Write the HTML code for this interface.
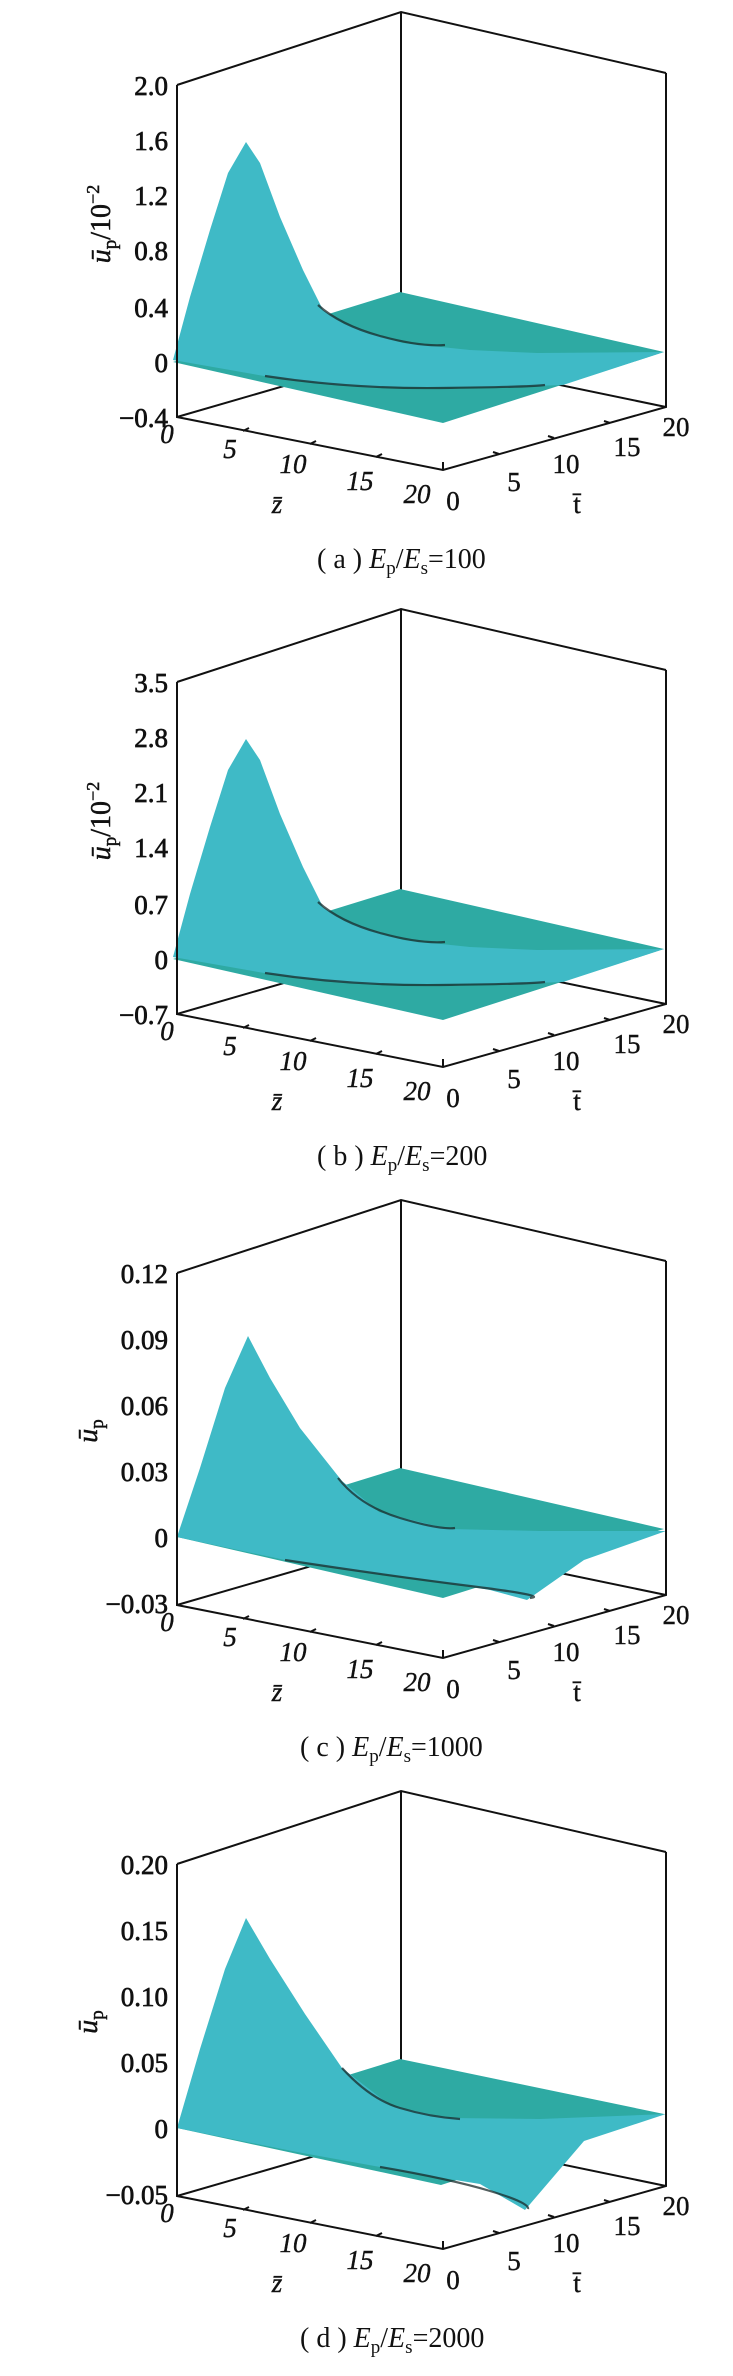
<!DOCTYPE html>
<html><head><meta charset="utf-8"><style>
html,body{margin:0;padding:0;background:#fff}
svg{display:block}
text{font-family:"Liberation Serif",serif;fill:#111}
.yt{font-size:27px;text-anchor:end;stroke:#111;stroke-width:0.7}
.ax{font-size:27px;text-anchor:middle;font-style:italic;stroke:#111;stroke-width:0.4}
.tx{font-size:27px;text-anchor:middle;stroke:#111;stroke-width:0.4}
.cap{font-size:28px}
.ln{stroke:#111;stroke-width:2;fill:none}
.pl{fill:#2eaaa3}
.hm{fill:#3fbac6}
.cr{stroke:#1a2a2a;stroke-width:2.2;fill:none;opacity:.75}
</style></head><body>
<svg width="733" height="2376" viewBox="0 0 733 2376" xmlns="http://www.w3.org/2000/svg">
<defs>
<g id="back">
  <polyline class="ln" points="177,85 401,12 666,73"/>
  <line class="ln" x1="401" y1="12" x2="401" y2="300"/>
  <line class="ln" x1="177" y1="417" x2="401" y2="352"/>
  <line class="ln" x1="666" y1="407" x2="401" y2="352"/>
</g>
<g id="front">
  <polyline class="ln" points="177,85 177,417 443,470 666,407 666,73"/>
  <path class="ln" d="M243,431 l6,-3 M310,444 l6,-3 M376,457 l6,-3 M443,470 l0,-8"/>
  <path class="ln" d="M499,454 l-6,-2 M554,438 l-6,-2 M610,423 l-6,-2"/>
  <g class="ax">
    <text x="167" y="443">0</text><text x="230" y="458">5</text><text x="293" y="473">10</text>
    <text x="360" y="490">15</text><text x="417" y="503">20</text>
    <text x="277" y="513">z̄</text>
  </g>
  <g class="tx">
    <text x="453" y="510">0</text><text x="514" y="491">5</text><text x="566" y="473">10</text>
    <text x="627" y="456">15</text><text x="676" y="436">20</text>
    <text x="577" y="513">t̄</text>
  </g>
</g>
<g id="surfAB">
  <polygon class="pl" points="173,362 443,423 664,352 400,292"/>
  <polygon class="hm" points="173,360 190,297 210,230 228,173 246,142 260,163 280,217 303,270 323,310 343,323 370,333 403,343 470,350 537,353 664,352 563,385 503,387 437,387 370,387 337,385 270,377"/>
  <path class="cr" d="M318,305 Q340,325 380,336 T445,345"/>
  <path class="cr" d="M265,376 Q350,389 440,388 T545,385"/>
</g>
<g id="surfC">
  <polygon class="pl" points="177,349 443,410 664,341 400,280"/>
  <polygon class="hm" points="177,349 200,280 225,200 248,148 270,190 300,240 342,293 379,324 449,341 540,343 666,343 584,372 527,412 490,402 430,392 350,382 285,372"/>
  <path class="cr" d="M338,290 Q360,318 400,330 T455,340"/>
  <path class="cr" d="M285,372 Q390,388 470,398 T530,410"/>
</g>
<g id="surfD">
  <polygon class="pl" points="177,349 441,406 664,335 400,280"/>
  <polygon class="hm" points="177,349 200,270 225,190 246,139 270,180 305,235 342,289 391,327 449,339 540,340 666,335 584,362 525,431 480,405 449,400 380,388 297,373"/>
  <path class="cr" d="M342,289 Q370,320 400,329 T460,340"/>
  <path class="cr" d="M380,388 Q450,400 490,412 T528,430"/>
</g>
</defs>

<g>
  <use href="#back"/><use href="#surfAB"/><use href="#front"/>
  <g class="yt">
    <text x="168" y="95">2.0</text><text x="168" y="150">1.6</text><text x="168" y="205">1.2</text>
    <text x="168" y="260">0.8</text><text x="168" y="317">0.4</text><text x="168" y="372">0</text><text x="168" y="427">−0.4</text>
  </g>
  <g transform="translate(101,224) rotate(-90)"><text x="0" y="9" style="font-size:28px;text-anchor:middle;stroke:#111;stroke-width:0.5"><tspan font-style="italic">ū</tspan><tspan font-size="19" dy="6">p</tspan><tspan dy="-6">/10</tspan><tspan font-size="18" dy="-11">−2</tspan></text></g>
  <text class="cap" x="317" y="568">( a ) <tspan font-style="italic">E</tspan><tspan font-size="19" dy="6">p</tspan><tspan dy="-6">/</tspan><tspan font-style="italic">E</tspan><tspan font-size="19" dy="6">s</tspan><tspan dy="-6">=100</tspan></text>
</g>

<g transform="translate(0,597)">
  <use href="#back"/><use href="#surfAB"/><use href="#front"/>
  <g class="yt">
    <text x="168" y="95">3.5</text><text x="168" y="150">2.8</text><text x="168" y="205">2.1</text>
    <text x="168" y="260">1.4</text><text x="168" y="317">0.7</text><text x="168" y="372">0</text><text x="168" y="427">−0.7</text>
  </g>
  <g transform="translate(101,224) rotate(-90)"><text x="0" y="9" style="font-size:28px;text-anchor:middle;stroke:#111;stroke-width:0.5"><tspan font-style="italic">ū</tspan><tspan font-size="19" dy="6">p</tspan><tspan dy="-6">/10</tspan><tspan font-size="18" dy="-11">−2</tspan></text></g>
  <text class="cap" x="317" y="568">( b ) <tspan font-style="italic">E</tspan><tspan font-size="19" dy="6">p</tspan><tspan dy="-6">/</tspan><tspan font-style="italic">E</tspan><tspan font-size="19" dy="6">s</tspan><tspan dy="-6">=200</tspan></text>
</g>

<g transform="translate(0,1188)">
  <use href="#back"/><use href="#surfC"/><use href="#front"/>
  <g class="yt">
    <text x="168" y="95">0.12</text><text x="168" y="161">0.09</text><text x="168" y="227">0.06</text>
    <text x="168" y="293">0.03</text><text x="168" y="359">0</text><text x="168" y="425">−0.03</text>
  </g>
  <g transform="translate(88,243) rotate(-90)"><text x="0" y="9" style="font-size:28px;text-anchor:middle;stroke:#111;stroke-width:0.5"><tspan font-style="italic">ū</tspan><tspan font-size="19" dy="6">p</tspan></text></g>
  <text class="cap" x="300" y="568">( c ) <tspan font-style="italic">E</tspan><tspan font-size="19" dy="6">p</tspan><tspan dy="-6">/</tspan><tspan font-style="italic">E</tspan><tspan font-size="19" dy="6">s</tspan><tspan dy="-6">=1000</tspan></text>
</g>

<g transform="translate(0,1779)">
  <use href="#back"/><use href="#surfD"/><use href="#front"/>
  <g class="yt">
    <text x="168" y="95">0.20</text><text x="168" y="161">0.15</text><text x="168" y="227">0.10</text>
    <text x="168" y="293">0.05</text><text x="168" y="359">0</text><text x="168" y="425">−0.05</text>
  </g>
  <g transform="translate(88,243) rotate(-90)"><text x="0" y="9" style="font-size:28px;text-anchor:middle;stroke:#111;stroke-width:0.5"><tspan font-style="italic">ū</tspan><tspan font-size="19" dy="6">p</tspan></text></g>
  <text class="cap" x="300" y="568">( d ) <tspan font-style="italic">E</tspan><tspan font-size="19" dy="6">p</tspan><tspan dy="-6">/</tspan><tspan font-style="italic">E</tspan><tspan font-size="19" dy="6">s</tspan><tspan dy="-6">=2000</tspan></text>
</g>
</svg>
</body></html>
